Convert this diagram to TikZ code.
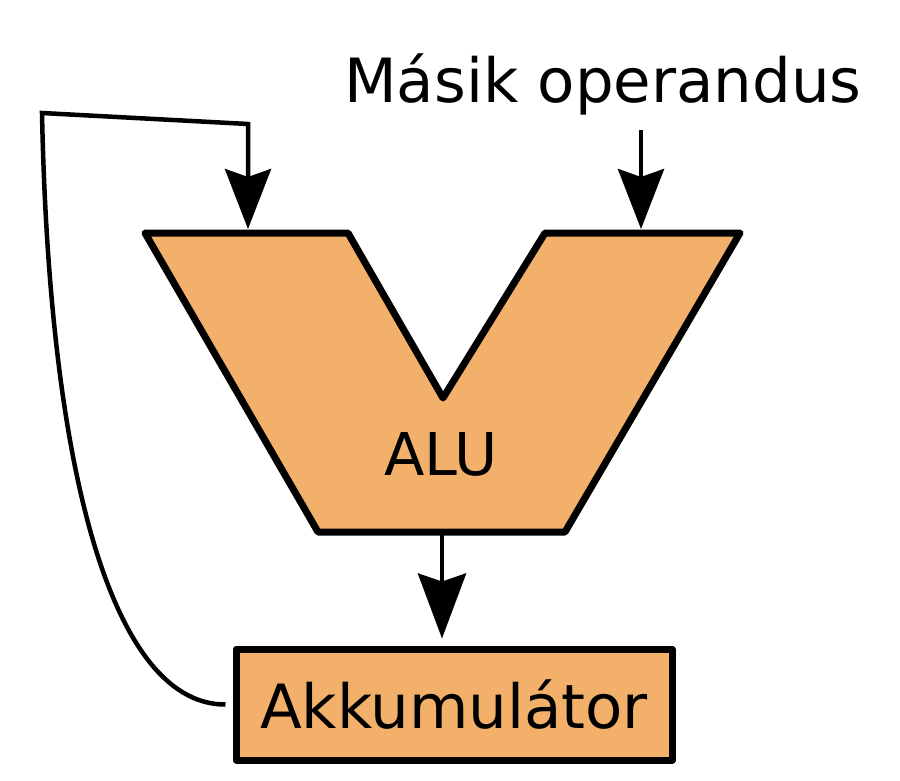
\documentclass[tikz,border=0pt]{standalone}
\usepackage{fontspec}
\setmainfont{DejaVu Sans}
\usetikzlibrary{arrows.meta}
\definecolor{aluorange}{RGB}{242,176,106}
\begin{document}
\begin{tikzpicture}[x=1pt,y=-1pt,
  unitshape/.style={draw=black,fill=aluorange,line width=7pt,line join=round},
  wire/.style={draw=black,line width=4.5pt},
  bigtip/.style={-{Stealth[length=60pt,width=46pt,inset=8pt]}},
  lbl/.style={font=\fontsize{61}{70}\selectfont,inner sep=0pt}]
\useasboundingbox[fill=white] (0,0) rectangle (900,780);
% ALU shape
\draw[unitshape] (145,233) -- (348,233) -- (443,398) -- (545,233) -- (740,233)
  -- (565,532) -- (318,532) -- cycle;
\node[lbl,font=\fontsize{59}{70}\selectfont,anchor=base] (alu) at (441,475) {ALU};
\coordinate (inA) at (248,229);
\coordinate (inB) at (641,229);
\coordinate (aluout) at (442,535);
% Akkumulator
\node[unitshape,minimum width=436pt,minimum height=111pt,inner sep=0pt,
  font=\fontsize{61}{70}\selectfont] (acc) at (454,704.5) {Akkumul\'ator};
% top label
\node[lbl,anchor=base] (other) at (603,102) {Másik operandus};
\coordinate (otherout) at (641,130);
\coordinate (fbcorner1) at (42,113);
\coordinate (fbcorner2) at (248,124);
\coordinate (fbstart) at ([xshift=-7pt]acc.west);
\coordinate (accin) at ([yshift=7pt]aluout |- acc.north);
% connectors
\draw[wire,bigtip] (otherout) -- (inB);
\draw[wire,-{Stealth[length=65pt,width=48pt,inset=8pt]}] (aluout) -- (accin);
\draw[wire,bigtip,line join=miter] (fbstart) .. controls (120,705) and (50,500) .. (fbcorner1)
  -- (fbcorner2) -- (inA);
\end{tikzpicture}
\end{document}
